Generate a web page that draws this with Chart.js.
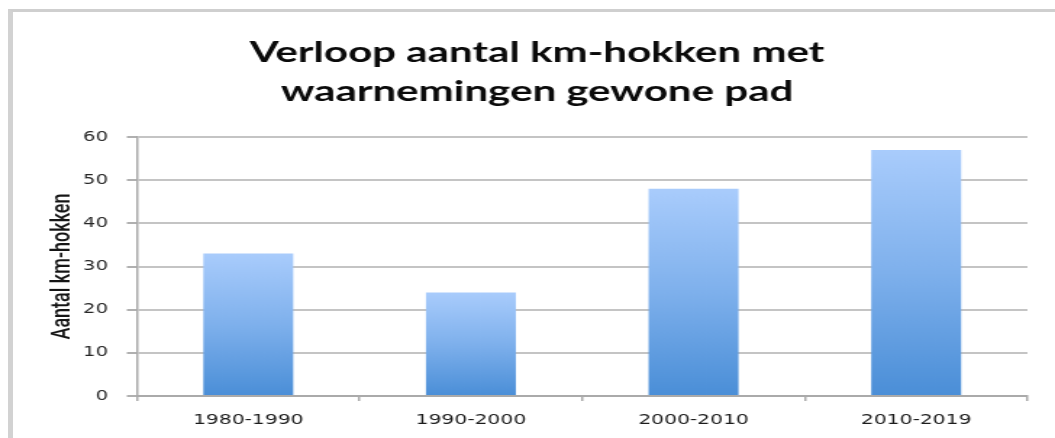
<!DOCTYPE html>
<html>
<head>
<meta charset="utf-8">
<script src="https://cdn.jsdelivr.net/npm/chart.js@4/dist/chart.umd.min.js"></script>
<style>
  html, body { margin: 0; padding: 0; background: #fff; overflow: hidden; }
  #frame {
    position: absolute; left: 8px; top: 9px; width: 1200px; height: 600px;
    border-top: 3px solid #cfcfcf; border-left: 5px solid #d2d2d2;
  }
  #wrap {
    position: absolute; left: 0; top: 0; width: 728px; height: 438px;
    transform: scaleX(1.4492); transform-origin: 0 0;
  }
  canvas { display: block; }
</style>
</head>
<body>
<div id="frame"></div>
<div id="wrap"><canvas id="chart" width="728" height="438" style="width:728px;height:438px"></canvas></div>
<script>
const categories = ["1980-1990", "1990-2000", "2000-2010", "2010-2019"];
const kmHokken = [33, 24, 48, 57];
const yMin = 0;
const yMax = 60;
const yStep = 10;
const titleLines = ["Verloop aantal km-hokken met", "waarnemingen gewone pad"];
const yTitle = "Aantal km-hokken";

// vertical gradient per bar, light at the top, darker at the bottom
const barFill = (context) => {
    const chart = context.chart;
    const area = chart.chartArea;
    if (!area || !chart.scales.y || context.raw === undefined) return "#78abe8";
    const top = chart.scales.y.getPixelForValue(context.raw);
    const g = chart.ctx.createLinearGradient(0, top, 0, area.bottom);
    g.addColorStop(0, "#a9ccfc");
    g.addColorStop(0.5, "#7eb0ec");
    g.addColorStop(1, "#4a8ed7");
    return g;
};

const ctx = document.getElementById("chart").getContext("2d");
const myChart = new Chart(ctx, {
    type: "bar",
    data: {
        labels: categories,
        datasets: [{
            label: yTitle,
            data: kmHokken,
            backgroundColor: barFill,
            borderWidth: 0,
            barPercentage: 0.404,
            categoryPercentage: 1.0,
        }],
    },
    options: {
        responsive: false,
        animation: false,
        layout: { padding: { left: 32, right: 19, top: 0, bottom: 0 } },
        plugins: {
            legend: { display: false },
            tooltip: { enabled: false },
            title: {
                display: true,
                text: titleLines,
                color: "#0a0a0a",
                font: { family: "Lato", size: 29, weight: "bold", lineHeight: 1.345 },
                padding: { top: 33, bottom: 26 },
            },
        },
        scales: {
            x: {
                afterFit: (scale) => { scale.height = 42; },
                grid: {
                    display: true,
                    drawOnChartArea: false,
                    offset: true,
                    tickLength: 5,
                    color: "#aaaaaa",
                    lineWidth: 1.5,
                },
                border: { color: "#aaaaaa", width: 2 },
                ticks: {
                    color: "#1c1c1c",
                    padding: 11,
                    font: { family: "DejaVu Sans", size: 14 },
                },
            },
            y: {
                min: yMin,
                max: yMax,
                afterFit: (scale) => { scale.width = 62.5; },
                grid: {
                    color: "#c4c4c4",
                    lineWidth: 2,
                    tickLength: 7,
                    tickColor: "#b0b0b0",
                },
                border: { color: "#aaaaaa", width: 1.5 },
                ticks: {
                    stepSize: yStep,
                    color: "#262626",
                    padding: 13,
                    font: { family: "DejaVu Sans", size: 13.5 },
                },
                title: {
                    display: true,
                    text: yTitle,
                    color: "#151515",
                    font: { family: "Roboto", size: 18, weight: "500" },
                    padding: { top: 1, bottom: 0 },
                },
            },
        },
    },
});
</script>
</body>
</html>
